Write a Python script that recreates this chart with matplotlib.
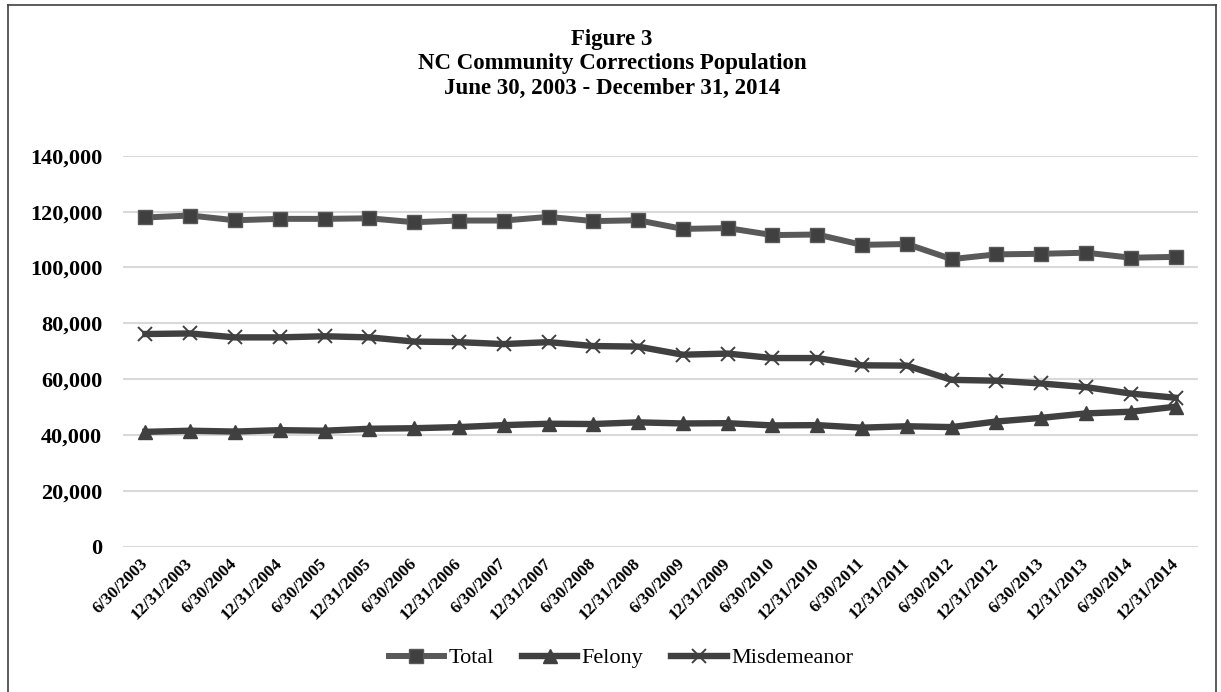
import matplotlib
matplotlib.use("Agg")
import matplotlib.pyplot as plt
from matplotlib.lines import Line2D
import numpy as np

plt.rcParams['font.family'] = ['Liberation Serif', 'DejaVu Serif']

dates = ['6/30/2003', '12/31/2003', '6/30/2004', '12/31/2004', '6/30/2005', '12/31/2005',
         '6/30/2006', '12/31/2006', '6/30/2007', '12/31/2007', '6/30/2008', '12/31/2008',
         '6/30/2009', '12/31/2009', '6/30/2010', '12/31/2010', '6/30/2011', '12/31/2011',
         '6/30/2012', '12/31/2012', '6/30/2013', '12/31/2013', '6/30/2014', '12/31/2014']

total = [117900, 118600, 116900, 117400, 117400, 117600, 116200, 116800, 116800, 118100, 116600, 116900,
         113800, 114100, 111600, 111800, 108100, 108400, 103000, 104700, 104900, 105300, 103500, 103800]
felony = [41200, 41600, 41300, 41800, 41600, 42300, 42500, 42900, 43600, 44100, 44000, 44600,
          44200, 44300, 43500, 43600, 42700, 43200, 42900, 44900, 46200, 47800, 48400, 50200]
misdemeanor = [76200, 76400, 75000, 75000, 75400, 75000, 73500, 73300, 72600, 73300, 71900, 71700,
               68800, 69200, 67600, 67600, 65000, 64900, 59800, 59500, 58500, 57200, 54900, 53400]

yticks = [0, 20000, 40000, 60000, 80000, 100000, 120000, 140000]

W, H = 1221, 692
fig = plt.figure(figsize=(W / 100, H / 100), dpi=100)
ax = fig.add_axes([123 / W, 1 - 547 / H, (1198 - 123) / W, (547 - 155.7) / H])

x = np.arange(len(dates))
ax.plot(x, total, color='#595959', lw=4.3, marker='s', ms=10,
        mfc='#404040', mec='#595959', mew=1, label='Total', zorder=3)
ax.plot(x, felony, color='#404040', lw=4.6, marker='^', ms=10,
        mfc='#404040', mec='#404040', label='Felony', zorder=3)
ax.plot(x, misdemeanor, color='#404040', lw=4.6, marker='x', ms=10,
        mec='#404040', mew=1.4, label='Misdemeanor', zorder=3)

ax.set_xlim(-0.5, len(dates) - 0.5)
ax.set_ylim(0, 140000)
ax.set_yticks(yticks)
ax.set_yticklabels([f"{v:,}" for v in yticks], fontsize=16, fontweight='bold')
ax.set_xticks(x)
ax.set_xticklabels(dates, rotation=45, ha='right', va='center', rotation_mode='anchor',
                   fontsize=12.5, fontweight='bold')
ax.tick_params(axis='y', length=0, pad=15)
ax.tick_params(axis='x', length=0, pad=10)
ax.grid(axis='y', color='#d9d9d9', lw=1.5)
ax.set_axisbelow(True)
for s in ax.spines.values():
    s.set_visible(False)

title = ['Figure 3', 'NC Community Corrections Population', 'June 30, 2003 - December 31, 2014']
for i, t in enumerate(title):
    fig.text(612 / W, 1 - (40 + 24 * i) / H, t, ha='center', va='center',
             fontsize=16.5, fontweight='bold')

fig.legend(loc='center', bbox_to_anchor=(621 / W, 1 - 658 / H), ncol=3, frameon=False,
           fontsize=16, handlelength=2.5, handletextpad=0.2, columnspacing=1.25)

# chart border
bx0, bx1, by0 = 8 / W, 1216 / W, 1 - 5 / H
for xs, ys in [([bx0, bx0], [0, by0]), ([bx0, bx1], [by0, by0]), ([bx1, bx1], [by0, 0])]:
    fig.add_artist(Line2D(xs, ys, transform=fig.transFigure, color='#404040', lw=1.2))

fig.savefig('out.png', dpi=100)
